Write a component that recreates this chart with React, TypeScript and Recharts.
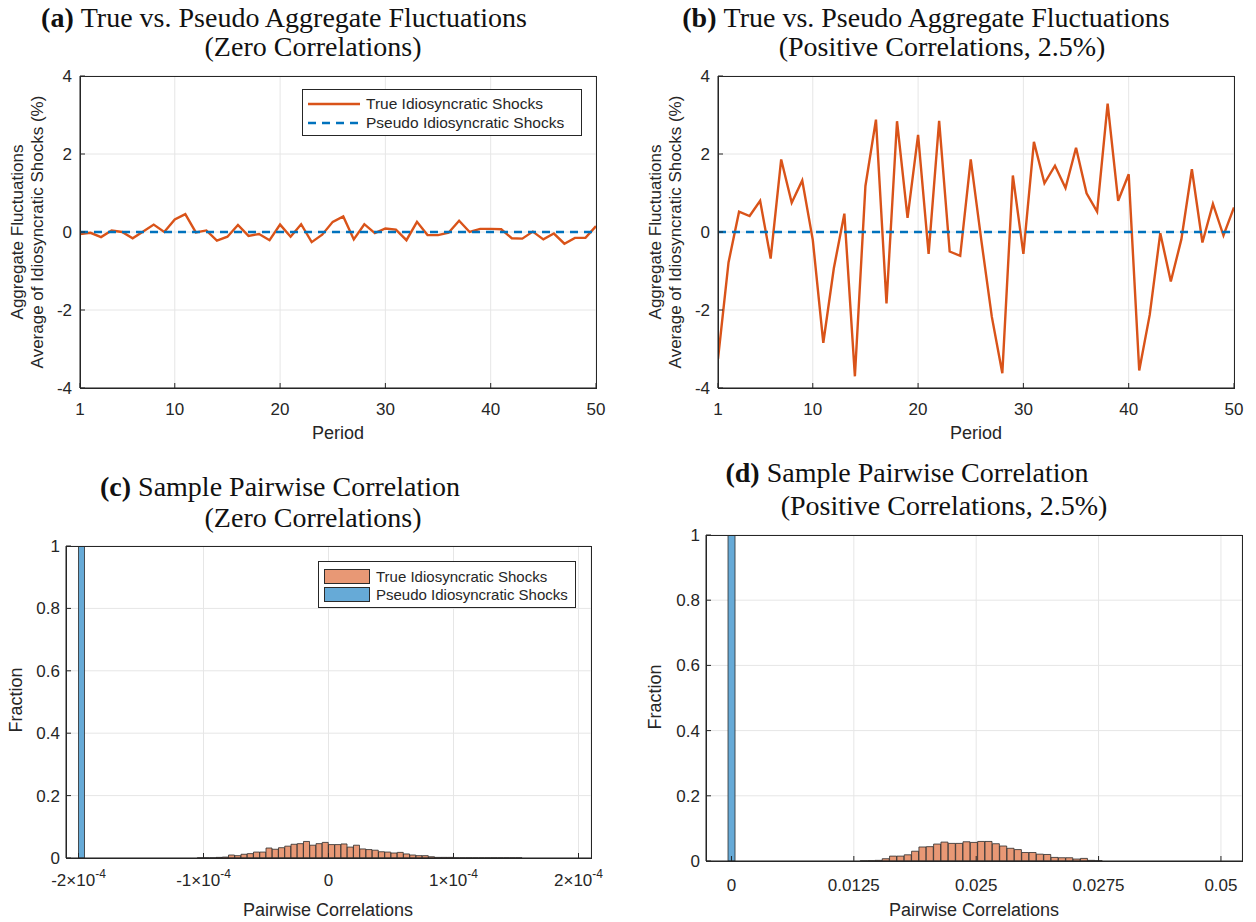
import React from 'react';
import { LineChart, Line, BarChart, Bar, XAxis, YAxis, CartesianGrid } from 'recharts';

// ---- panels (a) and (b): aggregate fluctuations over 50 periods ----
const periods = [
  1, 2, 3, 4, 5, 6, 7, 8, 9, 10, 11, 12, 13, 14, 15, 16, 17, 18, 19, 20, 21, 22, 23, 24, 25,
  26, 27, 28, 29, 30, 31, 32, 33, 34, 35, 36, 37, 38, 39, 40, 41, 42, 43, 44, 45, 46, 47, 48, 49, 50,
];

const trueZeroCorr = [
  -0.05, -0.02, -0.13, 0.04, 0.0, -0.16, 0.01, 0.19, 0.0, 0.32, 0.46, -0.01, 0.04, -0.22, -0.12,
  0.18, -0.1, -0.05, -0.21, 0.19, -0.12, 0.2, -0.26, -0.07, 0.26, 0.4, -0.19, 0.2, -0.03, 0.09,
  0.06, -0.21, 0.26, -0.08, -0.08, -0.02, 0.29, 0.0, 0.08, 0.08, 0.07, -0.16, -0.17, 0.01, -0.19,
  -0.04, -0.3, -0.15, -0.15, 0.15,
];
const pseudoZeroCorr = [
  0, 0, 0, 0, 0, 0, 0, 0, 0, 0, 0, 0, 0, 0, 0, 0, 0, 0, 0, 0, 0, 0, 0, 0, 0,
  0, 0, 0, 0, 0, 0, 0, 0, 0, 0, 0, 0, 0, 0, 0, 0, 0, 0, 0, 0, 0, 0, 0, 0, 0,
];

const truePosCorr = [
  -3.25, -0.78, 0.52, 0.41, 0.8, -0.68, 1.86, 0.75, 1.32, -0.2, -2.84, -0.93, 0.47, -3.7, 1.18,
  2.88, -1.83, 2.84, 0.36, 2.49, -0.56, 2.85, -0.5, -0.61, 1.86, -0.2, -2.17, -3.62, 1.45, -0.56,
  2.31, 1.25, 1.7, 1.13, 2.16, 0.99, 0.52, 3.29, 0.8, 1.48, -3.55, -2.12, -0.03, -1.27, -0.19,
  1.61, -0.27, 0.72, -0.09, 0.63,
];
const pseudoPosCorr = [
  0, 0, 0, 0, 0, 0, 0, 0, 0, 0, 0, 0, 0, 0, 0, 0, 0, 0, 0, 0, 0, 0, 0, 0, 0,
  0, 0, 0, 0, 0, 0, 0, 0, 0, 0, 0, 0, 0, 0, 0, 0, 0, 0, 0, 0, 0, 0, 0, 0, 0,
];

const periodTicks = [1, 10, 20, 30, 40, 50];
const shockTicks = [-4, -2, 0, 2, 4];
const fractionTicks = [0, 0.2, 0.4, 0.6, 0.8, 1];

// ---- panel (c): pairwise correlations, zero correlation case ----
const cBinStart = -2.1e-4;
const cBinWidth = 5e-6;
const cBinCount = 84;
const cTrueFirstBin = 21;
const cTrueFractions = [
  0.0004, 0.0004, 0.0004, 0.002, 0.003, 0.0096, 0.0075, 0.012, 0.014, 0.019, 0.019, 0.032, 0.028,
  0.033, 0.038, 0.044, 0.046, 0.053, 0.041, 0.046, 0.05, 0.043, 0.043, 0.045, 0.035, 0.041, 0.029,
  0.027, 0.025, 0.02, 0.019, 0.016, 0.018, 0.013, 0.0096, 0.0075, 0.0075, 0.004, 0.002, 0.002,
  0.002, 0.0005, 0.0005, 0.0005, 0.0005, 0.0005, 0.0005, 0.0005, 0.0005, 0.0005, 0.0005, 0.0005,
];
const cPseudoFirstBin = 2;
const cPseudoFractions = [1];
const cTicks = [-2e-4, -1e-4, 0, 1e-4, 2e-4];
const cTickMantissas = ['-2', '-1', '0', '1', '2'];
const cTickExponent = '-4';

// ---- panel (d): pairwise correlations, positive correlation case ----
const dBinStart = -0.0026;
const dBinWidth = 0.00075;
const dBinCount = 73;
const dTrueFirstBin = 21;
const dTrueFractions = [
  0.0005, 0.001, 0.002, 0.007, 0.015, 0.015, 0.019, 0.03, 0.043, 0.044, 0.052, 0.058, 0.054, 0.054,
  0.059, 0.057, 0.06, 0.06, 0.053, 0.046, 0.039, 0.035, 0.026, 0.026, 0.021, 0.02, 0.011, 0.01,
  0.01, 0.006, 0.008, 0.002, 0.001,
];
const dPseudoFirstBin = 3;
const dPseudoFractions = [1];
const dTicks = [0, 0.0125, 0.025, 0.0375, 0.05];
const dTickLabels = ['0', '0.0125', '0.025', '0.0275', '0.05'];

const ink = '#262626';
const gridColor = '#e6e6e6';
const sans = '"Liberation Sans", Arial, Helvetica, sans-serif';
const serif = '"Liberation Serif", "Times New Roman", serif';
const lineOrange = '#D95319';
const lineBlue = '#0072BD';
const barOrange = '#E89875';
const barBlue = '#66AAD7';

const tickStyle = { fill: ink, fontSize: 17, fontFamily: sans };

function buildBins(start: number, width: number, count: number, trueFirst: number, trueVals: number[], pseudoFirst: number, pseudoVals: number[]) {
  const rows = [];
  for (let k = 0; k < count; k++) {
    const t = k - trueFirst;
    const p = k - pseudoFirst;
    rows.push({
      bin: k,
      center: start + (k + 0.5) * width,
      trueFrac: t >= 0 && t < trueVals.length ? trueVals[t] : 0,
      pseudoFrac: p >= 0 && p < pseudoVals.length ? pseudoVals[p] : 0,
    });
  }
  return rows;
}

const Title = ({ x, y, tag, text }: { x: number; y: number; tag?: string; text: string }) => (
  <div
    style={{
      position: 'absolute', left: x, top: y, transform: 'translate(-50%, -50%)',
      whiteSpace: 'nowrap', fontFamily: serif, fontSize: 28, color: '#111', lineHeight: 1,
    }}
  >
    {tag && <b>{tag} </b>}
    {text}
  </div>
);

const Label = ({ x, y, text, rotate, size }: { x: number; y: number; text: string; rotate?: boolean; size?: number }) => (
  <div
    style={{
      position: 'absolute', left: x, top: y,
      transform: `translate(-50%, -50%)${rotate ? ' rotate(-90deg)' : ''}`,
      whiteSpace: 'nowrap', fontFamily: sans, fontSize: size ?? 18, color: ink, lineHeight: 1,
    }}
  >
    {text}
  </div>
);

// dark box around a plot area (MATLAB "box on")
const PlotBox = ({ left, top, right, bottom }: { left: number; top: number; right: number; bottom: number }) => (
  <div
    style={{
      position: 'absolute', left, top, width: right - left + 1, height: bottom - top + 1,
      border: `1px solid ${ink}`, boxSizing: 'border-box', pointerEvents: 'none',
    }}
  />
);

type LinePanelProps = {
  left: number; top: number; width: number; height: number;
  plotLeft: number; plotRight: number; plotTop: number; plotBottom: number;
  trueVals: number[]; pseudoVals: number[];
};

function LinePanel(p: LinePanelProps) {
  const rows = periods.map((period, i) => ({ period, trueShock: p.trueVals[i], pseudoShock: p.pseudoVals[i] }));
  return (
    <div style={{ position: 'absolute', left: p.left, top: p.top }}>
      <LineChart
        width={p.width}
        height={p.height}
        data={rows}
        margin={{ top: p.plotTop, right: p.width - p.plotRight, bottom: p.height - p.plotBottom - 30, left: 0 }}
      >
        <CartesianGrid stroke={gridColor} />
        <XAxis dataKey="period" type="number" domain={[1, 50]} ticks={periodTicks} interval={0} allowDataOverflow
          height={30} tickSize={-5} tickMargin={20} stroke={ink} tick={tickStyle} />
        <YAxis type="number" domain={[-4, 4]} ticks={shockTicks} interval={0} allowDataOverflow
          width={p.plotLeft} tickSize={-5} tickMargin={13} stroke={ink} tick={tickStyle} />
        <Line dataKey="trueShock" type="linear" stroke={lineOrange} strokeWidth={2.4} dot={false} isAnimationActive={false} />
        <Line dataKey="pseudoShock" type="linear" stroke={lineBlue} strokeWidth={2.4} strokeDasharray="8 6" dot={false} isAnimationActive={false} />
      </LineChart>
      <PlotBox left={p.plotLeft} top={p.plotTop} right={p.plotRight} bottom={p.plotBottom} />
    </div>
  );
}

type HistPanelProps = {
  left: number; top: number; width: number; height: number;
  plotLeft: number; plotRight: number; plotTop: number; plotBottom: number;
  rows: any[]; domain: [number, number]; ticks: number[]; tick: any;
};

function HistPanel(p: HistPanelProps) {
  return (
    <div style={{ position: 'absolute', left: p.left, top: p.top }}>
      <BarChart
        width={p.width}
        height={p.height}
        data={p.rows}
        barCategoryGap={0}
        barGap={0}
        margin={{ top: p.plotTop, right: p.width - p.plotRight, bottom: p.height - p.plotBottom - 30, left: 0 }}
      >
        <CartesianGrid stroke={gridColor} xAxisId="num" />
        <XAxis xAxisId="num" dataKey="center" type="number" domain={p.domain} ticks={p.ticks} interval={0}
          allowDataOverflow height={30} tickSize={-5} tickMargin={20} stroke={ink} tick={p.tick} />
        <XAxis xAxisId="bins" dataKey="bin" type="category" hide height={0} />
        <YAxis type="number" domain={[0, 1]} ticks={fractionTicks} interval={0} allowDataOverflow
          width={p.plotLeft} tickSize={-5} tickMargin={11} stroke={ink} tick={tickStyle} />
        <Bar xAxisId="bins" dataKey="trueFrac" stackId="h" fill={barOrange} stroke="#2b2b2b" strokeWidth={0.8} isAnimationActive={false} />
        <Bar xAxisId="bins" dataKey="pseudoFrac" stackId="h" fill={barBlue} stroke="#2b2b2b" strokeWidth={0.8} isAnimationActive={false} />
      </BarChart>
      <PlotBox left={p.plotLeft} top={p.plotTop} right={p.plotRight} bottom={p.plotBottom} />
    </div>
  );
}

const SciTick = (props: any) => {
  const { x, y, payload } = props;
  const m = cTickMantissas[cTicks.indexOf(payload.value)];
  return (
    <text x={x} y={y} dy={13} textAnchor="middle" fill={ink} fontSize={17} fontFamily={sans}>
      {m === '0' ? (
        '0'
      ) : (
        <>
          {m}×10<tspan dy={-8} fontSize={12}>{cTickExponent}</tspan>
        </>
      )}
    </text>
  );
};

const DecTick = (props: any) => {
  const { x, y, payload } = props;
  const label = dTickLabels[dTicks.indexOf(payload.value)];
  return (
    <text x={x} y={y} dy={15} textAnchor="middle" fill={ink} fontSize={17} fontFamily={sans}>
      {label}
    </text>
  );
};

const legendBox = {
  position: 'absolute' as const, background: '#fff', border: `1px solid ${ink}`,
  fontFamily: sans, fontSize: 15, color: ink, boxSizing: 'border-box' as const,
};

const LineLegend = ({ x, y, w }: { x: number; y: number; w: number }) => (
  <div style={{ ...legendBox, left: x, top: y, width: w, height: 47, padding: '4px 0 0 5px', fontSize: 15.5 }}>
    {[{ name: 'True Idiosyncratic Shocks', color: lineOrange, dash: undefined }, { name: 'Pseudo Idiosyncratic Shocks', color: lineBlue, dash: '8 6' }].map((e) => (
      <div key={e.name} style={{ display: 'flex', alignItems: 'center', height: 19 }}>
        <svg width={52} height={10} style={{ marginRight: 6 }}>
          <line x1={0} y1={5} x2={52} y2={5} stroke={e.color} strokeWidth={2.4} strokeDasharray={e.dash} />
        </svg>
        <span>{e.name}</span>
      </div>
    ))}
  </div>
);

const BarLegend = ({ x, y, w }: { x: number; y: number; w: number }) => (
  <div style={{ ...legendBox, left: x, top: y, width: w, height: 47, padding: '5px 0 0 5px' }}>
    {[{ name: 'True Idiosyncratic Shocks', color: barOrange }, { name: 'Pseudo Idiosyncratic Shocks', color: barBlue }].map((e) => (
      <div key={e.name} style={{ display: 'flex', alignItems: 'center', height: 18 }}>
        <div style={{ width: 46, height: 15, background: e.color, border: '1px solid #2b2b2b', boxSizing: 'border-box', marginRight: 6 }} />
        <span>{e.name}</span>
      </div>
    ))}
  </div>
);

export default function App() {
  const cRows = buildBins(cBinStart, cBinWidth, cBinCount, cTrueFirstBin, cTrueFractions, cPseudoFirstBin, cPseudoFractions);
  const dRows = buildBins(dBinStart, dBinWidth, dBinCount, dTrueFirstBin, dTrueFractions, dPseudoFirstBin, dPseudoFractions);
  return (
    <div style={{ position: 'absolute', left: 0, top: 0, width: 1256, height: 922, background: '#fff', overflow: 'hidden' }}>
      <Title x={284} y={18} tag="(a)" text="True vs. Pseudo Aggregate Fluctuations" />
      <Title x={313} y={47} text="(Zero Correlations)" />
      <Title x={926} y={18} tag="(b)" text="True vs. Pseudo Aggregate Fluctuations" />
      <Title x={942} y={47} text="(Positive Correlations, 2.5%)" />
      <Title x={280} y={487} tag="(c)" text="Sample Pairwise Correlation" />
      <Title x={313} y={518} text="(Zero Correlations)" />
      <Title x={907} y={473} tag="(d)" text="Sample Pairwise Correlation" />
      <Title x={944} y={506} text="(Positive Correlations, 2.5%)" />

      <LinePanel left={0} top={0} width={620} height={460} plotLeft={80} plotRight={596} plotTop={76} plotBottom={388}
        trueVals={trueZeroCorr} pseudoVals={pseudoZeroCorr} />
      <LinePanel left={640} top={0} width={616} height={460} plotLeft={78} plotRight={594} plotTop={76} plotBottom={388}
        trueVals={truePosCorr} pseudoVals={pseudoPosCorr} />
      <HistPanel left={0} top={480} width={620} height={440} plotLeft={66} plotRight={591} plotTop={66} plotBottom={378}
        rows={cRows} domain={[cBinStart, cBinStart + cBinCount * cBinWidth]} ticks={cTicks} tick={<SciTick />} />
      <HistPanel left={640} top={480} width={616} height={440} plotLeft={66} plotRight={602} plotTop={55} plotBottom={381}
        rows={dRows} domain={[dBinStart, dBinStart + dBinCount * dBinWidth]} ticks={dTicks} tick={<DecTick />} />

      <LineLegend x={302} y={89} w={280} />
      <BarLegend x={318} y={561} w={258} />

      <Label x={17} y={232} text="Aggregate Fluctuations" rotate size={17} />
      <Label x={37} y={232} text="Average of Idiosyncratic Shocks (%)" rotate size={17} />
      <Label x={655} y={232} text="Aggregate Fluctuations" rotate size={17} />
      <Label x={675} y={232} text="Average of Idiosyncratic Shocks (%)" rotate size={17} />
      <Label x={338} y={433} text="Period" />
      <Label x={976} y={433} text="Period" />
      <Label x={16} y={700} text="Fraction" rotate />
      <Label x={655} y={697} text="Fraction" rotate />
      <Label x={328} y={910} text="Pairwise Correlations" />
      <Label x={974} y={910} text="Pairwise Correlations" />
    </div>
  );
}
